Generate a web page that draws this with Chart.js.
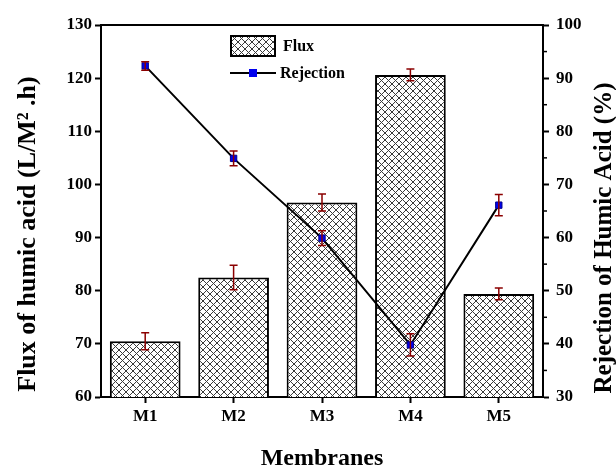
<!DOCTYPE html>
<html>
<head>
<meta charset="utf-8">
<script src="https://cdn.jsdelivr.net/npm/chart.js@4"></script>
<style>
  html, body { margin: 0; padding: 0; background: #fff; }
</style>
</head>
<body>
<canvas id="myChart" width="616" height="471"></canvas>
<script>
// membranes and measured values
var membranes = ['M1', 'M2', 'M3', 'M4', 'M5'];
var flux = [70.5, 82.5, 96.6, 120.6, 79.4];
var fluxErr = [1.6, 2.3, 1.6, 1.1, 1.1];
var rejection = [92.3, 74.9, 59.9, 39.8, 66.1];
var rejectionErr = [0.8, 1.4, 1.4, 2.1, 2.0];
var fluxTicks = [60, 70, 80, 90, 100, 110, 120, 130];
var rejectionTicks = [30, 40, 50, 60, 70, 80, 90, 100];

var serif = '"Liberation Serif", "DejaVu Serif", serif';

// cross-hatch fill for the flux bars
function hatch() {
    var s = 7;
    var c = document.createElement('canvas');
    c.width = s; c.height = s;
    var g = c.getContext('2d');
    g.fillStyle = '#fff';
    g.fillRect(0, 0, s, s);
    g.strokeStyle = '#3a3a3a';
    g.lineWidth = 1;
    g.beginPath();
    g.moveTo(-1, -1); g.lineTo(s + 1, s + 1);
    g.moveTo(-1, s + 1); g.lineTo(s + 1, -1);
    g.stroke();
    return document.getElementById('myChart').getContext('2d').createPattern(c, 'repeat');
}
var hatchFill = hatch();

// error bars, frame, minor ticks, axis titles and legend
var extras = {
    id: 'extras',
    afterDatasetsDraw: function (chart) {
        var ctx = chart.ctx;
        var xs = chart.scales.x, y = chart.scales.y, y1 = chart.scales.y1;
        ctx.save();
        ctx.strokeStyle = '#8b0000';
        ctx.lineWidth = 1.5;
        function errBar(x, lo, hi) {
            ctx.beginPath();
            ctx.moveTo(x, lo); ctx.lineTo(x, hi);
            ctx.moveTo(x - 4, lo); ctx.lineTo(x + 4, lo);
            ctx.moveTo(x - 4, hi); ctx.lineTo(x + 4, hi);
            ctx.stroke();
        }
        for (var i = 0; i < membranes.length; i++) {
            var x = xs.getPixelForValue(i);
            errBar(x, y.getPixelForValue(flux[i] - fluxErr[i]), y.getPixelForValue(flux[i] + fluxErr[i]));
            errBar(x, y1.getPixelForValue(rejection[i] - rejectionErr[i]), y1.getPixelForValue(rejection[i] + rejectionErr[i]));
        }
        ctx.restore();
    },
    afterDraw: function (chart) {
        var ctx = chart.ctx;
        var a = chart.chartArea;
        var y1 = chart.scales.y1;
        ctx.save();
        // top border
        ctx.strokeStyle = '#000';
        ctx.lineWidth = 2;
        ctx.beginPath();
        ctx.moveTo(a.left - 1, a.top); ctx.lineTo(a.right + 1, a.top);
        ctx.stroke();
        // minor ticks on the right axis
        ctx.lineWidth = 1.5;
        for (var v = 35; v < 100; v += 10) {
            var py = y1.getPixelForValue(v);
            ctx.beginPath();
            ctx.moveTo(a.right, py); ctx.lineTo(a.right + 4, py);
            ctx.stroke();
        }
        // vertical axis titles, both reading bottom to top
        ctx.fillStyle = '#000';
        ctx.textAlign = 'center';
        ctx.textBaseline = 'middle';
        ctx.font = 'bold 26px ' + serif;
        ctx.translate(28, 234);
        ctx.rotate(-Math.PI / 2);
        ctx.fillText('Flux of humic acid (L/M\u00b2 .h)', 0, 0);
        ctx.setTransform(1, 0, 0, 1, 0, 0);
        ctx.font = 'bold 25px ' + serif;
        ctx.translate(605, 238);
        ctx.rotate(-Math.PI / 2);
        ctx.fillText('Rejection of Humic Acid (%)', 0, 0);
        ctx.setTransform(1, 0, 0, 1, 0, 0);

        // legend
        ctx.fillStyle = hatchFill;
        ctx.fillRect(230, 35, 46, 22);
        ctx.lineWidth = 2;
        ctx.strokeStyle = '#000';
        ctx.strokeRect(231, 36, 44, 20);
        ctx.beginPath();
        ctx.moveTo(230, 73); ctx.lineTo(276, 73);
        ctx.stroke();
        ctx.fillStyle = '#0000ee';
        ctx.fillRect(249, 69, 8, 8);
        ctx.fillStyle = '#000';
        ctx.font = 'bold 16px ' + serif;
        ctx.textAlign = 'left';
        ctx.textBaseline = 'middle';
        ctx.fillText('Flux', 283, 47);
        ctx.fillText('Rejection', 280, 74);
        ctx.restore();
    }
};

var ctx = document.getElementById('myChart').getContext('2d');
var chart = new Chart(ctx, {
    type: 'bar',
    data: {
        labels: membranes,
        datasets: [{
            type: 'line',
            label: 'Rejection',
            data: rejection,
            yAxisID: 'y1',
            borderColor: '#000',
            borderWidth: 2,
            pointStyle: 'rect',
            pointRadius: 4.5,
            pointBackgroundColor: '#0000ee',
            pointBorderColor: '#00008b',
            pointBorderWidth: 1,
            order: 0
        }, {
            label: 'Flux',
            data: flux,
            yAxisID: 'y',
            backgroundColor: hatchFill,
            borderColor: '#000',
            borderWidth: 2,
            barPercentage: 0.8,
            categoryPercentage: 1,
            order: 1
        }]
    },
    plugins: [extras],
    options: {
        responsive: false,
        animation: false,
        layout: { padding: { top: 25, left: 0, right: 0, bottom: 0 } },
        plugins: {
            legend: { display: false },
            tooltip: { enabled: false }
        },
        scales: {
            x: {
                grid: { offset: false, drawOnChartArea: false, tickLength: 6, tickWidth: 2, tickColor: '#000' },
                border: { color: '#000', width: 2 },
                ticks: { color: '#000', padding: 3, font: { family: serif, size: 17, weight: 'bold' } },
                title: {
                    display: true, text: 'Membranes', color: '#000',
                    font: { family: serif, size: 24, weight: 'bold', lineHeight: 1 },
                    padding: { top: 0, bottom: 0 }
                },
                afterFit: function (s) { s.height = 74; }
            },
            y: {
                position: 'left',
                min: 60, max: 130,
                afterBuildTicks: function (s) { s.ticks = fluxTicks.map(function (v) { return { value: v }; }); },
                grid: { drawOnChartArea: false, tickLength: 6, tickWidth: 2, tickColor: '#000' },
                border: { color: '#000', width: 2 },
                ticks: { color: '#000', padding: 3, font: { family: serif, size: 17, weight: 'bold' } },
                afterFit: function (s) { s.width = 101; }
            },
            y1: {
                position: 'right',
                min: 30, max: 100,
                afterBuildTicks: function (s) { s.ticks = rejectionTicks.map(function (v) { return { value: v }; }); },
                grid: { drawOnChartArea: false, tickLength: 6, tickWidth: 2, tickColor: '#000' },
                border: { color: '#000', width: 2 },
                ticks: { color: '#000', padding: 7, font: { family: serif, size: 17, weight: 'bold' } },
                afterFit: function (s) { s.width = 73; }
            }
        }
    }
});
</script>
</body>
</html>
